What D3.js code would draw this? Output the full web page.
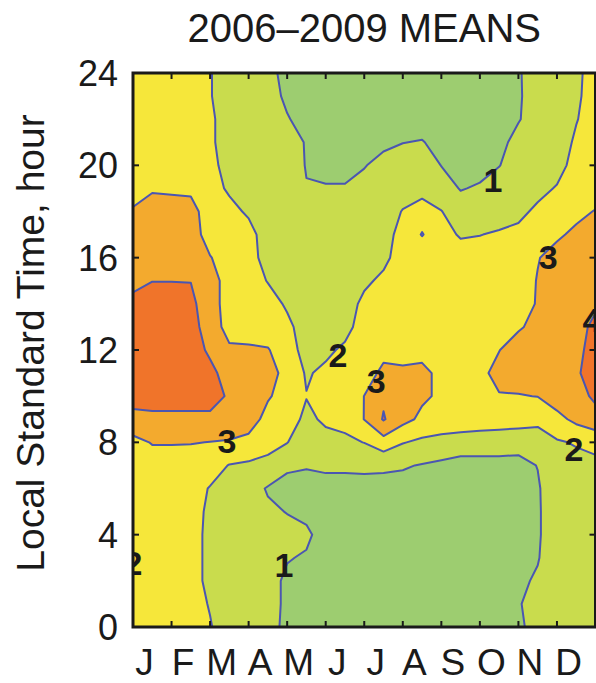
<!DOCTYPE html>
<html><head><meta charset="utf-8">
<script src="https://cdn.jsdelivr.net/npm/d3@7"></script>
<style>body{margin:0;background:#fff}svg{display:block}</style>
</head><body>
<svg id="chart" width="596" height="683"></svg>
<script>
// ---------------- data ----------------
const chartTitle = "2006–2009 MEANS";
const yTitle = "Local Standard Time, hour";
const monthLabels = ["J","F","M","A","M","J","J","A","S","O","N","D"];
const hourTicks = [0, 4, 8, 12, 16, 20, 24];
const monthTicks = [1,2,3,4,5,6,7,8,9,10,11];
const levels = [1, 2, 3, 4];
const bandColors = ["#9dcd70", "#c9dc4d", "#f6e73a", "#f3aa2e", "#f0742a"];

// grid: half-month columns (0 = start of Jan, 12 = end of Dec), hourly rows 0..24
const gridMonths = [0,0.5,1,1.5,2,2.5,3,3.5,4,4.5,5,5.5,6,6.5,7,7.5,8,8.5,9,9.5,10,10.5,11,11.5,12];
const gridHours = [0,1,2,3,4,5,6,7,8,9,10,11,12,13,14,15,16,17,18,19,20,21,22,23,24];
// one array per month column, values listed from hour 0 up to hour 24
const valuesByMonth = [
 [2.5,2.5,2.5,2.5,2.5,2.5,2.5,2.6,2.75,3.6,4.5,4.6,4.6,4.5,4.25,3.75,3.5,3.5,3.1,2.6,2.5,2.5,2.5,2.5,2.5],
 [2.5,2.5,2.5,2.5,2.5,2.5,2.5,2.6,3.05,3.75,4.45,4.6,4.6,4.55,4.5,3.98,3.5,3.5,3.4,2.9,2.6,2.5,2.5,2.5,2.5],
 [2.5,2.5,2.5,2.5,2.5,2.5,2.5,2.6,3.05,3.75,4.45,4.6,4.6,4.55,4.5,3.98,3.5,3.5,3.4,2.85,2.6,2.5,2.5,2.5,2.5],
 [2.3,2.3,2.3,2.3,2.3,2.3,2.35,2.45,3.05,3.75,4.45,4.55,4.55,4.4,4.2,3.98,3.5,3.5,3.35,2.81,2.4,2.3,2.3,2.3,2.3],
 [2.05,1.95,1.8,1.8,1.8,1.85,1.95,2.4,2.98,3.75,4.45,4.3,3.8,3.5,3.5,3.5,3.05,2.55,2.5,2.4,2.25,2.15,2.15,2.05,2.05],
 [1.6,1.55,1.5,1.5,1.5,1.55,1.6,1.96,2.9,3.8,3.85,3.5,3.15,2.65,2.5,2.5,2.5,2.4,2.3,1.85,1.67,1.59,1.59,1.55,1.55],
 [1.5,1.5,1.45,1.4,1.35,1.2,1.4,1.85,2.7,3.5,3.55,3.5,3.12,2.62,2.5,2.5,2.4,2.35,1.85,1.6,1.5,1.5,1.5,1.5,1.5],
 [1.3,1.3,1.3,1.2,1.1,1.15,0.92,1.75,2.3,2.65,3.1,3.3,3.05,2.6,2.45,1.95,1.6,1.5,1.5,1.5,1.5,1.45,1.4,1.3,1.25],
 [0.8,0.85,0.85,1.05,1.25,0.97,0.8,1.1,2.03,2.4,2.6,2.75,2.55,2.25,1.85,1.6,1.5,1.5,1.5,1.5,1.5,1.3,1.05,0.86,0.74],
 [0.7,0.75,0.8,0.92,1.15,0.8,0.75,1.05,1.4,1.8,2.03,1.9,1.55,1.5,1.5,1.5,1.5,1.5,1.3,1.04,0.95,0.95,0.75,0.65,0.6],
 [0.55,0.55,0.55,0.6,0.65,0.6,0.8,1.1,1.7,2.15,2.15,2.2,1.8,1.6,1.5,1.5,1.5,1.5,1.3,1.04,0.84,0.7,0.55,0.55,0.55],
 [0.5,0.5,0.5,0.5,0.5,0.5,0.8,1.1,1.8,2.3,2.5,2.45,2.18,1.68,1.5,1.5,1.5,1.5,1.3,1.04,0.84,0.6,0.55,0.55,0.55],
 [0.5,0.5,0.5,0.5,0.5,0.5,0.75,1.15,2.02,3.02,3.01,2.6,2.5,2.45,2.25,1.8,1.55,1.5,1.45,1.3,0.95,0.75,0.55,0.55,0.55],
 [0.5,0.5,0.5,0.5,0.5,0.5,0.8,1.1,2.6,4.08,3.85,3.2,2.75,2.55,2.5,2.22,1.74,1.55,1.5,1.45,1.3,0.8,0.6,0.55,0.55],
 [0.5,0.5,0.5,0.5,0.5,0.5,0.7,1.08,2.05,3.3,3.45,3.15,2.7,2.55,2.5,2.5,2.5,2.4,2.05,1.55,1.45,0.98,0.7,0.6,0.55],
 [0.5,0.5,0.5,0.5,0.5,0.5,0.6,0.95,1.8,2.8,3.15,3.2,2.75,2.6,2.5,2.5,2.4,1.97,2.25,1.8,1.55,1.05,0.6,0.55,0.55],
 [0.5,0.5,0.5,0.5,0.5,0.5,0.5,0.8,1.7,2.55,2.85,2.8,2.6,2.5,2.5,2.5,2.45,2.35,2.03,1.4,0.98,0.7,0.55,0.55,0.55],
 [0.5,0.5,0.5,0.5,0.5,0.5,0.5,0.7,1.45,2.7,2.6,2.5,2.5,2.5,2.5,2.5,2.45,1.9,1.45,0.95,0.65,0.55,0.55,0.55,0.55],
 [0.5,0.5,0.5,0.5,0.5,0.5,0.5,0.7,1.45,2.55,2.7,2.8,2.7,2.55,2.5,2.5,2.4,1.98,1.45,1.1,0.7,0.55,0.55,0.55,0.55],
 [0.5,0.5,0.5,0.5,0.5,0.5,0.5,0.7,1.45,2.45,2.95,3.25,2.98,2.6,2.5,2.5,2.45,2.1,1.6,1.45,0.97,0.7,0.55,0.55,0.55],
 [0.9,0.97,0.85,0.65,0.55,0.55,0.55,0.8,1.25,2.5,2.95,3.45,3.4,2.9,2.6,2.5,2.5,2.25,1.75,1.5,1.45,1.35,0.93,0.88,0.9],
 [1.2,1.15,1.1,0.95,0.9,0.9,0.92,1.02,1.6,2.2,3.02,3.45,3.45,3.25,3.07,3.05,2.95,2.5,2.2,1.7,1.55,1.55,1.5,1.5,1.5],
 [1.5,1.5,1.5,1.5,1.5,1.5,1.5,1.6,1.9,2.7,3.5,3.55,3.6,3.6,3.55,3.5,3.35,2.85,2.4,2.08,1.6,1.5,1.5,1.5,1.5],
 [1.5,1.5,1.5,1.5,1.5,1.5,1.55,1.7,2.08,3.25,3.7,3.9,3.8,3.7,3.55,3.5,3.4,3.2,2.75,2.5,2.4,2.15,1.95,1.85,1.8],
 [1.5,1.5,1.5,1.5,1.5,1.5,1.6,1.8,2.24,3.7,4.15,4.35,4.3,4.2,3.87,3.6,3.5,3.4,3.05,2.55,2.5,2.5,2.45,2.4,2.4]
];

// inline contour labels (month position, hour position, text)
const labelText  = ["1", "1", "2", "2", "2", "3", "3", "3", "4"];
const labelMonth = [9.34, 3.92, 5.32, 11.44, 0.0, 2.44, 6.31, 10.77, 11.91];
const labelHour  = [19.37, 2.69, 11.79, 7.71, 2.77, 8.06, 10.66, 16.03, 13.3];

// ---------------- drawing ----------------
const svg = d3.select("#chart");
const P = {left: 133, right: 595.5, top: 73, bottom: 627};
const FONT = "'Liberation Sans', Arial, Helvetica, sans-serif";
const x = d3.scaleLinear().domain([0, 12]).range([P.left, P.right]);
const y = d3.scaleLinear().domain([0, 24]).range([P.bottom, P.top]);

const nx = gridMonths.length, ny = gridHours.length;
const flat = new Array(nx * ny);
for (let j = 0; j < ny; j++) for (let i = 0; i < nx; i++) flat[j * nx + i] = valuesByMonth[i][j];

const contours = d3.contours().size([nx, ny]).thresholds(levels)(flat);
// grid cell coordinate -> data coordinate (values sit at cell centres)
const gx = d3.scaleLinear().domain([0.5, nx - 0.5]).range([gridMonths[0], gridMonths[nx - 1]]);
const gy = d3.scaleLinear().domain([0.5, ny - 0.5]).range([gridHours[0], gridHours[ny - 1]]);
const proj = d3.geoTransform({point(px, py) { this.stream.point(x(gx(px)), y(gy(py))); }});
const path = d3.geoPath(proj);

svg.append("defs").append("clipPath").attr("id", "plotclip")
  .append("rect").attr("x", P.left).attr("y", P.top)
  .attr("width", P.right - P.left).attr("height", P.bottom - P.top);

const g = svg.append("g").attr("clip-path", "url(#plotclip)");
g.append("rect").attr("x", P.left).attr("y", P.top)
  .attr("width", P.right - P.left).attr("height", P.bottom - P.top)
  .attr("fill", bandColors[0]);
g.selectAll("path.band").data(contours).join("path")
  .attr("class", "band").attr("d", path)
  .attr("fill", (d, i) => bandColors[i + 1]).attr("stroke", "none");
g.selectAll("path.line").data(contours).join("path")
  .attr("class", "line").attr("d", path)
  .attr("fill", "none").attr("stroke", "#4a56b2").attr("stroke-width", 2)
  .attr("stroke-linejoin", "round");

// contour labels
g.selectAll("text.clabel").data(labelText).join("text")
  .attr("class", "clabel")
  .attr("x", (d, i) => x(labelMonth[i]))
  .attr("y", (d, i) => y(labelHour[i]))
  .attr("dy", "0.36em").attr("text-anchor", "middle")
  .attr("font-family", FONT).attr("font-weight", "bold").attr("font-size", 34)
  .attr("fill", "#1a1a1a").text(d => d);

// ticks (inward, all four sides)
const tk = svg.append("g").attr("stroke", "#1a1a1a").attr("stroke-width", 2);
monthTicks.forEach(m => {
  tk.append("line").attr("x1", x(m)).attr("x2", x(m)).attr("y1", P.bottom).attr("y2", P.bottom - 6);
  tk.append("line").attr("x1", x(m)).attr("x2", x(m)).attr("y1", P.top).attr("y2", P.top + 6);
});
hourTicks.slice(1, -1).forEach(h => {
  tk.append("line").attr("x1", P.left).attr("x2", P.left + 6).attr("y1", y(h)).attr("y2", y(h));
  tk.append("line").attr("x1", P.right).attr("x2", P.right - 6).attr("y1", y(h)).attr("y2", y(h));
});

// frame
svg.append("rect").attr("x", P.left).attr("y", P.top)
  .attr("width", P.right - P.left).attr("height", P.bottom - P.top)
  .attr("fill", "none").attr("stroke", "#1a1a1a").attr("stroke-width", 3);

// axis labels
svg.selectAll("text.ytick").data(hourTicks).join("text")
  .attr("class", "ytick").attr("x", 118).attr("y", d => y(d)).attr("dy", "0.36em")
  .attr("text-anchor", "end").attr("font-family", FONT).attr("font-size", 36)
  .attr("fill", "#1a1a1a").text(d => d);

svg.selectAll("text.xtick").data(monthLabels).join("text")
  .attr("class", "xtick").attr("x", (d, i) => x(i + 0.3)).attr("y", 675)
  .attr("text-anchor", "middle").attr("font-family", FONT).attr("font-size", 37)
  .attr("fill", "#1a1a1a").text(d => d);

svg.append("text").attr("transform", "translate(44,343) rotate(-90)")
  .attr("text-anchor", "middle").attr("font-family", FONT).attr("font-size", 39)
  .attr("fill", "#1a1a1a").text(yTitle);

svg.append("text").attr("x", (P.left + P.right) / 2).attr("y", 42)
  .attr("text-anchor", "middle").attr("font-family", FONT).attr("font-size", 40)
  .attr("fill", "#1a1a1a").text(chartTitle);
</script>
</body></html>
